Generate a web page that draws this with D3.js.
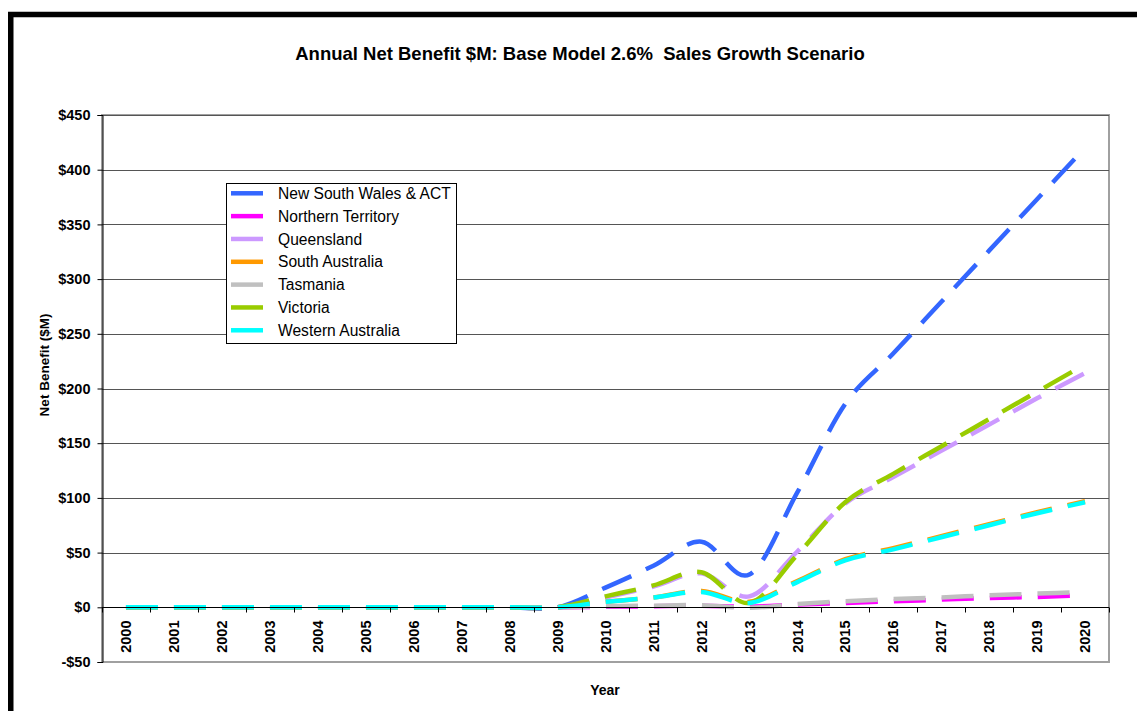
<!DOCTYPE html>
<html>
<head>
<meta charset="utf-8">
<script src="https://cdn.jsdelivr.net/npm/d3@7"></script>
<style>
  html, body { margin: 0; padding: 0; background: #fff; }
  #visualization { width: 1137px; height: 711px; overflow: hidden; }
  text { font-family: "Liberation Sans", Arial, sans-serif; }
</style>
</head>
<body>
<div id="visualization"></div>
<script>
const years = ['2000', '2001', '2002', '2003', '2004', '2005', '2006', '2007', '2008', '2009', '2010',
  '2011', '2012', '2013', '2014', '2015', '2016', '2017', '2018', '2019', '2020'];

const yTicks = [-50, 0, 50, 100, 150, 200, 250, 300, 350, 400, 450];

const seriesNames = ['New South Wales & ACT', 'Northern Territory', 'Queensland', 'South Australia',
  'Tasmania', 'Victoria', 'Western Australia'];

const seriesColors = ['#3366ff', '#ff00ff', '#cc99ff', '#ff9900', '#c0c0c0', '#99cc00', '#00ffff'];

const nswValues = [0, 0, 0, 0, 0, 0, 0, 0, 0, 0, 18, 38, 60, 30, 105, 186, 232, 279, 326, 373, 420];
const ntValues = [0, 0, 0, 0, 0, 0, 0, 0, 0, 0, 0.5, 1, 1.5, 0.5, 2.5, 4, 5.5, 7, 8.5, 9.5, 11];
const qldValues = [0, 0, 0, 0, 0, 0, 0, 0, 0, 0, 9, 19, 31, 10, 51, 95, 119, 143, 167, 191, 214];
const saValues = [0, 0, 0, 0, 0, 0, 0, 0, 0, 0, 5, 9, 15, 5, 24, 44, 54, 65, 76, 87, 97];
const tasValues = [0, 0, 0, 0, 0, 0, 0, 0, 0, 0, 1, 1.5, 2, -0.5, 3, 5.5, 7.5, 9, 11, 12.5, 14];
const vicValues = [0, 0, 0, 0, 0, 0, 0, 0, 0, 0, 10, 20, 32, 4, 48, 96, 122, 147, 172, 197, 222];
const waValues = [0, 0, 0, 0, 0, 0, 0, 0, 0, 0, 5, 9, 14, 4, 23, 43, 53, 64, 75, 86, 96];

const seriesValues = [nswValues, ntValues, qldValues, saValues, tasValues, vicValues, waValues];

const chart = {
  width: 1137,
  height: 711,
  plot: { left: 102, right: 1109, top: 115, bottom: 662 },

  init() {
    this.svg = d3.select('#visualization').append('svg')
      .attr('width', this.width)
      .attr('height', this.height);

    this.x = d3.scalePoint()
      .domain(years)
      .range([this.plot.left, this.plot.right])
      .padding(0.5);

    this.y = d3.scaleLinear()
      .domain([-50, 450])
      .range([this.plot.bottom, this.plot.top]);

    this.drawFrame();
    this.drawGrid();
    this.drawLines();
    this.drawAxes();
    this.drawLabels();
    this.drawLegend();
  },

  drawFrame() {
    // only the top and left edges of the outer frame are in view
    this.svg.append('rect')
      .attr('x', 10.75)
      .attr('y', 14.5)
      .attr('width', 1400)
      .attr('height', 1000)
      .attr('fill', 'none')
      .attr('stroke', '#000')
      .attr('stroke-width', 5.5);

    // plot area border
    this.svg.append('rect')
      .attr('x', this.plot.left)
      .attr('y', this.plot.top)
      .attr('width', this.plot.right - this.plot.left)
      .attr('height', this.plot.bottom - this.plot.top)
      .attr('fill', 'none')
      .attr('stroke', '#a0a0a0')
      .attr('stroke-width', 2);
  },

  drawGrid() {
    const grid = yTicks.filter((d) => d > 0);
    this.svg.append('g')
      .selectAll('line')
      .data(grid)
      .join('line')
      .attr('x1', this.plot.left)
      .attr('x2', this.plot.right)
      .attr('y1', (d) => Math.round(this.y(d)) + 0.5)
      .attr('y2', (d) => Math.round(this.y(d)) + 0.5)
      .attr('stroke', '#555')
      .attr('stroke-width', 1.2);
  },

  drawLines() {
    const line = d3.line()
      .x((d, i) => this.x(years[i]))
      .y((d) => this.y(d))
      .curve(d3.curveCardinal.tension(0));

    this.svg.append('g')
      .selectAll('path')
      .data(seriesValues)
      .join('path')
      .attr('d', (d) => line(d))
      .attr('fill', 'none')
      .attr('stroke', (d, i) => seriesColors[i])
      .attr('stroke-width', 4.5)
      .attr('stroke-dasharray', '32,16');
  },

  drawAxes() {
    const y0 = Math.round(this.y(0)) + 0.5;
    const step = this.x.step();

    // y axis
    const yAxis = d3.axisLeft(this.y)
      .tickValues(yTicks)
      .tickSize(5)
      .tickFormat((d) => (d < 0 ? '-$' + Math.abs(d) : '$' + d));
    const gy = this.svg.append('g')
      .attr('transform', `translate(${this.plot.left + 0.5},0)`)
      .call(yAxis);
    gy.select('.domain').attr('stroke', '#000');
    gy.selectAll('.tick line').attr('stroke', '#000');
    gy.selectAll('.tick text')
      .attr('x', -12)
      .attr('fill', '#000')
      .style('font-size', '14.5px')
      .style('font-weight', 'bold');

    // x axis along the zero line, ticks between categories
    const gx = this.svg.append('g');
    gx.append('line')
      .attr('x1', this.plot.left)
      .attr('x2', this.plot.right)
      .attr('y1', y0)
      .attr('y2', y0)
      .attr('stroke', '#000');
    gx.selectAll('line.tick')
      .data(d3.range(years.length + 1))
      .join('line')
      .attr('class', 'tick')
      .attr('x1', (i) => Math.round(this.plot.left + i * step) + 0.5)
      .attr('x2', (i) => Math.round(this.plot.left + i * step) + 0.5)
      .attr('y1', y0)
      .attr('y2', y0 + 5)
      .attr('stroke', '#000');
    gx.selectAll('text')
      .data(years)
      .join('text')
      .attr('transform', (d) => `translate(${this.x(d)},${y0 + 13}) rotate(-90)`)
      .attr('dy', '0.36em')
      .attr('text-anchor', 'end')
      .style('font-size', '14.5px')
      .style('font-weight', 'bold')
      .text((d) => d);
  },

  drawLabels() {
    this.svg.append('text')
      .attr('x', 580)
      .attr('y', 60)
      .attr('text-anchor', 'middle')
      .style('font-size', '18.5px')
      .style('font-weight', 'bold')
      .style('white-space', 'pre')
      .text('Annual Net Benefit $M: Base Model 2.6%  Sales Growth Scenario');

    this.svg.append('text')
      .attr('transform', 'translate(44,365) rotate(-90)')
      .attr('dy', '0.36em')
      .attr('text-anchor', 'middle')
      .style('font-size', '13.5px')
      .style('font-weight', 'bold')
      .text('Net Benefit ($M)');

    this.svg.append('text')
      .attr('x', 605)
      .attr('y', 695)
      .attr('text-anchor', 'middle')
      .style('font-size', '14px')
      .style('font-weight', 'bold')
      .text('Year');
  },

  drawLegend() {
    const legend = this.svg.append('g');
    legend.append('rect')
      .attr('x', 226.5)
      .attr('y', 183.5)
      .attr('width', 230)
      .attr('height', 160)
      .attr('fill', '#fff')
      .attr('stroke', '#000');

    const rows = legend.selectAll('g.row')
      .data(seriesNames)
      .join('g')
      .attr('class', 'row')
      .attr('transform', (d, i) => `translate(0,${193.3 + i * 22.83})`);

    rows.append('line')
      .attr('x1', 231)
      .attr('x2', 263)
      .attr('stroke', (d, i) => seriesColors[i])
      .attr('stroke-width', 4.5);

    rows.append('text')
      .attr('x', 278)
      .attr('dy', '0.36em')
      .style('font-size', '15.6px')
      .text((d) => d);
  }
};

chart.init();
</script>
</body>
</html>
